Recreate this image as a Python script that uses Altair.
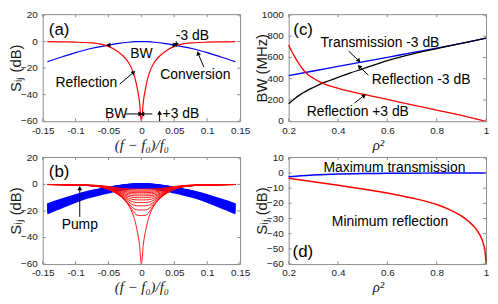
import altair as alt
import pandas as pd

# ---------------- panel (a): one resonator, detuning (f-f0)/f0 ----------------
RX = [0, 0.003, 0.006, 0.01, 0.015, 0.02, 0.03, 0.04, 0.05, 0.06, 0.08, 0.10, 0.12, 0.143]
REFL_A = [-60, -45, -36, -27, -20, -15.5, -9.8, -6.2, -3.6, -2.1, -0.9, -0.45, -0.25, -0.1]
BX = [0, 0.01, 0.02, 0.03, 0.04, 0.05, 0.06, 0.08, 0.10, 0.12, 0.143]
CONV_A = [0, -0.1, -0.5, -1.1, -1.8, -2.8, -3.6, -5.6, -8.3, -11.4, -15.2]

# ---------------- panel (b): families of reflection / conversion curves ----------------
REFL_B = [
    [-3.50, -3.50, -3.50, -3.49, -3.45, -3.35, -2.97, -2.37, -1.62, -1.03, -0.47, -0.24, -0.14, -0.06],
    [-4.30, -4.30, -4.30, -4.29, -4.23, -4.10, -3.59, -2.82, -1.90, -1.20, -0.54, -0.28, -0.16, -0.06],
    [-5.20, -5.20, -5.20, -5.18, -5.10, -4.93, -4.26, -3.28, -2.17, -1.35, -0.61, -0.31, -0.17, -0.07],
    [-6.20, -6.20, -6.20, -6.17, -6.06, -5.83, -4.95, -3.74, -2.43, -1.49, -0.67, -0.34, -0.19, -0.08],
    [-7.30, -7.30, -7.30, -7.26, -7.12, -6.80, -5.66, -4.18, -2.66, -1.62, -0.72, -0.36, -0.20, -0.08],
    [-8.60, -8.60, -8.59, -8.55, -8.34, -7.90, -6.41, -4.62, -2.88, -1.74, -0.76, -0.38, -0.21, -0.09],
    [-10.0, -10.0, -9.99, -9.92, -9.63, -9.02, -7.11, -5.00, -3.07, -1.84, -0.80, -0.40, -0.22, -0.09],
    [-11.70, -11.70, -11.69, -11.58, -11.14, -10.27, -7.81, -5.36, -3.23, -1.92, -0.83, -0.42, -0.23, -0.09],
    [-13.70, -13.69, -13.67, -13.51, -12.81, -11.57, -8.44, -5.65, -3.36, -1.98, -0.86, -0.43, -0.24, -0.10],
    [-16.20, -16.19, -16.15, -15.86, -14.72, -12.88, -8.98, -5.88, -3.46, -2.03, -0.88, -0.44, -0.24, -0.10],
    [-19.30, -19.30, -19.23, -18.64, -16.66, -14.03, -9.37, -6.04, -3.53, -2.07, -0.89, -0.44, -0.25, -0.10],
    [-23.50, -23.47, -23.26, -21.90, -18.41, -14.88, -9.63, -6.14, -3.57, -2.09, -0.89, -0.45, -0.25, -0.10],
    [-60, -45, -36, -27, -20, -15.5, -9.8, -6.2, -3.6, -2.1, -0.9, -0.45, -0.25, -0.1],
]
CONV_B = [
    [-2.5, -2.63, -3.13, -3.89, -4.77, -6.04, -7.05, -9.57, -12.98, -16.9, -21.7],
    [-1.5, -1.63, -2.13, -2.88, -3.76, -5.02, -6.03, -8.54, -11.93, -15.83, -20.6],
    [-0.9, -1.02, -1.51, -2.25, -3.10, -4.33, -5.31, -7.75, -11.06, -14.85, -19.5],
    [-0.55, -0.67, -1.14, -1.86, -2.69, -3.88, -4.83, -7.20, -10.41, -14.09, -18.6],
    [-0.35, -0.46, -0.92, -1.61, -2.42, -3.56, -4.48, -6.78, -9.88, -13.44, -17.8],
    [-0.2, -0.31, -0.75, -1.42, -2.19, -3.29, -4.18, -6.39, -9.37, -12.80, -17.0],
    [-0.1, -0.21, -0.63, -1.27, -2.02, -3.08, -3.94, -6.07, -8.95, -12.25, -16.3],
    [-0.05, -0.15, -0.57, -1.18, -1.90, -2.93, -3.76, -5.82, -8.60, -11.79, -15.7],
    [0, -0.1, -0.5, -1.1, -1.8, -2.8, -3.6, -5.6, -8.3, -11.4, -15.2],
]

# ---------------- panel (c): bandwidths vs rho^2 ----------------
RHO_TRANS = [0.2, 0.3, 0.4, 0.5, 0.6, 0.7, 0.8, 0.9, 1.0]
BW_TRANS = [429, 473, 516, 559, 602, 645, 688, 734, 782]
RHO_RM3 = [0.2, 0.22, 0.25, 0.3, 0.35, 0.4, 0.45, 0.5, 0.6, 0.7, 0.8, 0.9, 1.0]
BW_RM3 = [165, 205, 255, 318, 370, 412, 455, 492, 570, 632, 684, 733, 782]
RHO_RP3 = [0.2, 0.21, 0.22, 0.24, 0.26, 0.28, 0.3, 0.33, 0.36, 0.4, 0.45, 0.5, 0.6, 0.7, 0.8, 0.9, 0.95, 1.0]
BW_RP3 = [718, 668, 625, 548, 480, 436, 405, 366, 337, 310, 281, 255, 205, 155, 105, 55, 28, 0]

# ---------------- panel (d): extrema vs rho^2 ----------------
RHO_MT = [0.2, 0.25, 0.3, 0.35, 0.4, 0.5, 0.6, 0.7, 0.8, 0.9, 1.0]
MAX_T = [-2.5, -1.8, -1.3, -0.95, -0.7, -0.4, -0.22, -0.12, -0.06, -0.02, 0]
RHO_MR = [0.2, 0.3, 0.4, 0.5, 0.6, 0.7, 0.8, 0.85, 0.9, 0.93, 0.96, 0.98, 0.99, 0.997, 1.0]
MIN_R = [-3.5, -5.8, -8.1, -10.5, -13.2, -16.5, -20.8, -24, -28.3, -32, -37, -42.5, -47, -53, -60]

# ---------------- axes ----------------
F_TICKS = [-0.15, -0.1, -0.05, 0, 0.05, 0.1, 0.15]
S_TICKS = [-60, -40, -20, 0, 20]
RHO_TICKS = [0.2, 0.4, 0.6, 0.8, 1]
BW_TICKS = [0, 200, 400, 600, 800, 1000]
D_TICKS = [-60, -50, -40, -30, -20, -10, 0, 10]

# ---------------- annotations (data coordinates) ----------------
A_LABEL = (["(a)"], [-0.125], [8.5])
A_TEXT = (["BW", "-3 dB", "Conversion", "Reflection", "BW", "+3 dB"],
          [0, 0.0775, 0.0819, -0.0836, -0.0382, 0.06],
          [-9.2, 3.9, -25.3, -31.5, -54.5, -54.5])
A_ARROWS = ([-0.049, 0.049, 0.053, 0.095, -0.033, -0.0242, 0.0166, 0.0277],
            [-2.66, -2.66, 0.3, -19.3, -32.0, -54.5, -54.5, -60],
            [-0.0494, 0.0497, 0.053, 0.0865, -0.0125, -0.0025, 0.0022, 0.0277],
            [-2.66, -2.66, -2.2, -9.3, -23.5, -54.5, -54.5, -54.0],
            [270, 90, 180, 339, 49, 90, 270, 0])
B_LABEL = (["(b)"], [-0.125], [9.0])
B_TEXT = (["Pump"], [-0.0937], [-30.6])
B_ARROWS = ([-0.0937], [-24.5], [-0.0937], [-3.4], [0])
C_LABEL = (["(c)"], [0.2586], [854])
C_TEXT = (["Transmission -3 dB", "Reflection -3 dB", "Reflection +3 dB"],
          [0.5697, 0.7366, 0.48], [735, 385, 85])
C_ARROWS = ([0.4437, 0.5232, 0.4667], [659, 434, 171],
            [0.4828, 0.4881, 0.5042], [573, 511, 239], [140, 314, 52])
D_LABEL = (["(d)"], [0.2574], [-52.4])
D_TEXT = (["Maximum transmission", "Minimum reflection"], [0.6287, 0.6109], [3.3, -32])

SANS = "Liberation Sans"
SERIF = "Liberation Serif"
W, H = 199, 108
BOX = "#8c8c8c"
RED = "#ff0000"
BLUE = "#0000ff"
INK = "#1a1a1a"
YTITLE = "S\u1d62\u2c7c  (dB)"


def mirrored(xs, ys, name):
    rows = []
    for x, y in zip(xs, ys):
        rows.append({"x": x, "y": y, "c": name})
        if x != 0:
            rows.append({"x": -x, "y": y, "c": name})
    return rows


def padded(dom, top=1e-6):
    span = dom[1] - dom[0]
    return [dom[0] - span * 1e-6, dom[1] + span * top]


def panel(xdom, ydom, xticks, yticks, xtitle, ytitle, curves, label, texts, arrows=None, xtitle_x=None):
    xax = dict(values=xticks, ticks=False, domain=False, grid=False, labelFlush=False,
               labelOverlap=False, labelExpr="'' + datum.value", labelFont=SANS,
               labelFontSize=10, labelColor=INK, labelPadding=4, title=xtitle,
               titleFont=SERIF, titleFontStyle="italic", titleFontWeight="normal",
               titleFontSize=15, titleColor=INK, titlePadding=2)
    if xtitle_x is not None:
        xax["titleX"] = xtitle_x
    yax = dict(values=yticks, ticks=False, domain=False, grid=False, labels=False,
               title=ytitle, titleFont=SANS, titleFontWeight="normal", titleFontSize=15,
               titleColor=INK, titleX=-19, titleY=H / 2)

    def X(f):
        return alt.X(f, type="quantitative", scale=alt.Scale(domain=padded(xdom), nice=False, zero=False),
                     axis=alt.Axis(**xax))

    def Y(f):
        return alt.Y(f, type="quantitative", scale=alt.Scale(domain=padded(ydom, 0.008), nice=False, zero=False),
                     axis=alt.Axis(**yax))

    layers = []
    for df, color, sw in curves:
        layers.append(alt.Chart(df).mark_line(color=color, strokeWidth=sw, interpolate="monotone")
                      .encode(x=X("x"), y=Y("y"), detail="c:N"))
    xt = pd.DataFrame({"v": xticks})
    yt = pd.DataFrame({"v": yticks})
    layers += [
        alt.Chart(xt).mark_rule(color=BOX).encode(x=X("v"), y=alt.value(H), y2=alt.value(H - 3)),
        alt.Chart(xt).mark_rule(color=BOX).encode(x=X("v"), y=alt.value(0), y2=alt.value(3)),
        alt.Chart(yt).mark_rule(color=BOX).encode(y=Y("v"), x=alt.value(0), x2=alt.value(3)),
        alt.Chart(yt).mark_rule(color=BOX).encode(y=Y("v"), x=alt.value(W), x2=alt.value(W - 3)),
    ]
    if arrows is not None:
        adf = pd.DataFrame({"x": arrows[0], "y": arrows[1], "x2": arrows[2], "y2": arrows[3], "a": arrows[4]})
        layers.append(alt.Chart(adf).mark_rule(color="black", strokeWidth=1)
                      .encode(x=X("x"), y=Y("y"), x2=alt.X2("x2"), y2=alt.Y2("y2")))
        layers.append(alt.Chart(adf).mark_point(shape="triangle", filled=True, size=24, color="black",
                                                opacity=1, strokeWidth=0)
                      .encode(x=X("x2"), y=Y("y2"), angle=alt.Angle("a:Q", scale=None)))
    ldf = pd.DataFrame({"t": label[0], "x": label[1], "y": label[2]})
    layers.append(alt.Chart(ldf).mark_text(font=SANS, fontSize=17, color="black", baseline="middle")
                  .encode(x=X("x"), y=Y("y"), text="t:N"))
    tdf = pd.DataFrame({"t": texts[0], "x": texts[1], "y": texts[2]})
    layers.append(alt.Chart(tdf).mark_text(font=SANS, fontSize=14, color="black", baseline="middle")
                  .encode(x=X("x"), y=Y("y"), text="t:N"))
    # y tick labels, positioned by the y scale (drawn last)
    layers.append(alt.Chart(yt).mark_text(align="right", baseline="middle", dx=-5, font=SANS, fontSize=10,
                                          color=INK).encode(y=Y("v"), x=alt.value(0),
                                                            text=alt.Text("v:Q", format="d")))
    return alt.layer(*layers).properties(width=W, height=H)


FTITLE = "(f \u2212 f\u2080)/f\u2080"
RTITLE = "\u03c1\u00b2"

# panel (a)
red_a = pd.DataFrame(mirrored(RX, REFL_A, "r"))
blue_a = pd.DataFrame(mirrored(BX, CONV_A, "b"))
pa = panel([-0.15, 0.15], [-60, 20], F_TICKS, S_TICKS, FTITLE, YTITLE,
           [(blue_a, BLUE, 1.2), (red_a, RED, 1.2)], A_LABEL, A_TEXT, A_ARROWS)

# panel (b)
rows_r, rows_b = [], []
for i, ys in enumerate(REFL_B):
    rows_r += mirrored(RX, ys, "r%d" % i)
for i, ys in enumerate(CONV_B):
    rows_b += mirrored(BX, ys, "b%d" % i)
pb = panel([-0.15, 0.15], [-60, 20], F_TICKS, S_TICKS, FTITLE, YTITLE,
           [(pd.DataFrame(rows_b), BLUE, 2.5), (pd.DataFrame(rows_r), RED, 0.9)],
           B_LABEL, B_TEXT, B_ARROWS)

# panel (c)
c_blue = pd.DataFrame({"x": RHO_TRANS, "y": BW_TRANS, "c": "t"})
c_black = pd.DataFrame({"x": RHO_RM3, "y": BW_RM3, "c": "m"})
c_red = pd.DataFrame({"x": RHO_RP3, "y": BW_RP3, "c": "p"})
pc = panel([0.2, 1.0], [0, 1000], RHO_TICKS, BW_TICKS, RTITLE, "BW (MHz)",
           [(c_blue, BLUE, 1.3), (c_black, "black", 1.3), (c_red, RED, 1.3)],
           C_LABEL, C_TEXT, C_ARROWS, xtitle_x=90)

# panel (d)
d_blue = pd.DataFrame({"x": RHO_MT, "y": MAX_T, "c": "t"})
d_red = pd.DataFrame({"x": RHO_MR, "y": MIN_R, "c": "r"})
pdd = panel([0.2, 1.0], [-60, 10], RHO_TICKS, D_TICKS, RTITLE, YTITLE,
            [(d_blue, BLUE, 1.5), (d_red, RED, 1.5)], D_LABEL, D_TEXT, None, xtitle_x=90)

chart = (
    alt.concat(pa, pc, pb, pdd, columns=2, spacing={"row": 36, "column": 49}, bounds="flush")
    .properties(padding=0, background="white")
    .configure_view(stroke=BOX, strokeWidth=1)
)

chart.save("out.html", embed_options={"renderer": "svg", "actions": False})
